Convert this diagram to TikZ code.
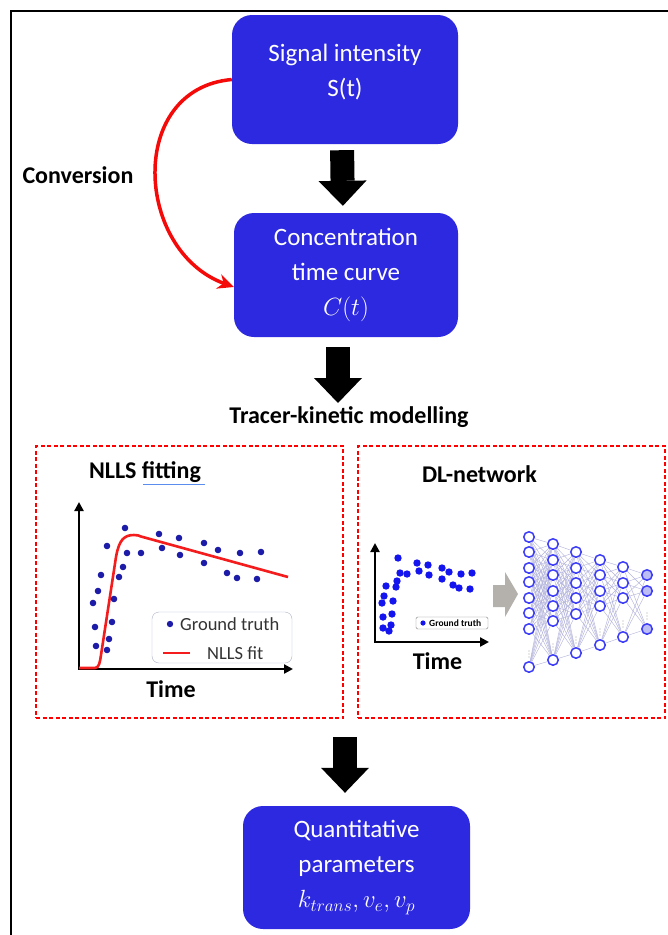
\documentclass[tikz,border=0pt]{standalone}
\usepackage{fontspec}
\setmainfont{Carlito}
\usetikzlibrary{positioning,arrows.meta,backgrounds,calc}
\definecolor{boxblue}{HTML}{2D29E0}
\definecolor{convred}{HTML}{F50A0A}
\definecolor{fitred}{HTML}{F41C1C}
\definecolor{gtnavy}{HTML}{1C1CA8}
\definecolor{gtblue}{HTML}{1414EE}
\definecolor{neuronblue}{HTML}{3C3CF8}
\definecolor{outfill}{HTML}{BDBDF6}
\definecolor{wiregray}{HTML}{B4B4DC}
\definecolor{arrowgray}{HTML}{B4B0AC}
\definecolor{leggray}{HTML}{A9B0C6}
\definecolor{spellblue}{HTML}{5B8DEF}

\begin{document}
\begin{tikzpicture}[x=1pt, y=1pt, font=\fontsize{25}{35}\selectfont,
      box/.style={fill=boxblue, text=white, rounded corners=20pt, align=center,
                  minimum width=226pt, inner sep=0pt},
      blk/.style={line width=24pt, -{Triangle[length=25pt,width=48pt,line width=0pt]}},
      conv/.style={draw=convred, line width=3.5pt, -{Stealth[length=16pt,width=15pt]}},
      lbl/.style={font=\fontsize{24}{28}\selectfont\bfseries},
      panel/.style={draw=red, dash pattern=on 4pt off 2.5pt, line width=1.3pt,
                    minimum width=307pt, minimum height=272pt},
      axis/.style={line width=2.8pt, {Triangle[length=9pt,width=9pt]}-{Triangle[length=9pt,width=9pt]}},
      neuron/.style={circle, draw=neuronblue, line width=1.5pt, minimum size=10.5pt, inner sep=0pt},
      wire/.style={draw=wiregray, line width=0.45pt}]

    \useasboundingbox (0,0) rectangle (668,-935);
    \draw[line width=2pt] (11,-935) -- (11,-11) -- (668,-11);

    % main chain
    \node[box, minimum height=129pt, text depth=18pt] (sig) at (345,-79.5) {Signal intensity\\S(t)};
    \node[box, minimum width=224pt, minimum height=124pt] (conc) at (346,-275)
      {Concentration\\time curve\\$C(t)$};
    \node[lbl] (tkm) at (349,-417) {Tracer-kinetic modelling};
    \node[box, minimum width=227pt, minimum height=123pt] (quant) at (356.5,-867.5)
      {Quantitative\\parameters\\$k_{trans}, v_e, v_p$};

    \draw[blk, shorten <=6pt, shorten >=7pt] ([xshift=-3pt]sig.south) -- ([xshift=-3pt]conc.north);
    \draw[blk, shorten <=10pt] ([xshift=-8pt]conc.south) -- ([xshift=-11pt]tkm.north);

    % conversion loop
    \node[lbl, anchor=west] (conv) at (19,-175) {Conversion};
    \draw[conv] (sig.west) to[out=185,in=160,looseness=1.3] ([yshift=-12pt]conc.west);

    % the two panels
    \node[panel] (nlls) at (189.5,-582) {};
    \node[panel] (dl) at (511.5,-582) {};
    \coordinate (join) at (345,-737);
    \draw[blk, shorten >=13pt] (join) -- ([xshift=-11.5pt]quant.north);

    % NLLS fitting
    \node[lbl] (nllsT) at (145,-472) {NLLS fitting};
    \draw[spellblue, line width=1pt] (143,-484) -- (205,-484);
    \draw[axis] (79,-502) -- (79,-669) -- (293,-669);
    \draw[fitred, line width=2.6pt] (79,-668) -- (95,-668)
      .. controls (99,-668) and (100,-662) .. (101,-655) -- (116,-557)
      .. controls (119,-540) and (124,-535) .. (134,-535)
      .. controls (137,-535) and (139,-535.5) .. (141,-536.5) -- (288,-577);
    \foreach \x/\y in {125/528,107/546,127/553,141/553,159/534,162/548,179/538,180/555,
                       204/543,218/550,204/563,240/553,261/552,227/573,237/578,257/579,
                       101/575,123/567,119/577,98/591,93/603,114/599,95/627,112/622,
                       96/646,109/639,107/650}
      \fill[gtnavy] (\x,-\y) circle (3.3pt);
    \node[draw=leggray, rounded corners=7pt, minimum width=140pt, minimum height=51pt]
      (legL) at (222,-637.5) {};
    \fill[gtnavy] (170,-624) circle (3.2pt);
    \node[anchor=west, inner sep=0pt, text=black!80, font=\fontsize{18.5}{20}\selectfont]
      (gtL) at (180,-624) {Ground truth};
    \draw[fitred, line width=2.6pt] (163,-653) -- (190,-653);
    \node[anchor=west, inner sep=0pt, text=black!80, font=\fontsize{18.5}{20}\selectfont]
      (fitL) at (207,-653) {NLLS fit};
    \node[lbl] (timeL) at (171,-689) {Time};

    % DL-network
    \node[lbl] (dlT) at (479.5,-474) {DL-network};
    \draw[axis] (375,-543) -- (375,-642) -- (489,-642);
    \foreach \x/\y in {398/558,417/563,428/565,442/568,449/572,461/574,472/573,400/573,
                       407/574,419/571,429/575,442/579,453/585,459/588,470/589,386/586,
                       397/581,396/587,384/596,393/601,382/603,383/617,392/614,383/628,
                       389/631,391/625}
      \fill[gtblue] (\x,-\y) circle (3.7pt);
    \node[draw=gray, rounded corners=1.5pt, minimum width=72pt, minimum height=12pt,
          inner sep=0pt, fill=white] (legR) at (452,-623) {};
    \fill[gtblue] (423,-623) circle (2.6pt);
    \node[anchor=west, inner sep=0pt, font=\fontsize{9.5}{10}\selectfont\bfseries]
      (gtR) at (429,-623.5) {Ground truth};
    \node[lbl] (timeR) at (437.5,-661) {Time};
    \fill[arrowgray] (493,-585) -- (505,-585) -- (505,-572) -- (518,-594)
      -- (505,-617) -- (505,-607) -- (493,-607) -- cycle;

    % network
    \foreach \c/\cx/\nf/\ys in {1/529/white/{537,552,568,582,598,613,629,667},
                                2/553/white/{544,560,575,591,606,621,660},
                                3/576/white/{552,568,583,598,614,653},
                                4/600/white/{560,575,591,606,645},
                                5/623/white/{567,583,598,637},
                                6/647/outfill/{575,591,629}}
      \foreach \y [count=\i] in \ys
        \node[neuron, fill=\nf] (n\c-\i) at (\cx,-\y) {};
    \begin{scope}[on background layer]
      \foreach \c/\m/\n in {1/8/7,2/7/6,3/6/5,4/5/4,5/4/3} {
        \pgfmathtruncatemacro\d{\c+1}
        \foreach \i in {1,...,\m}
          \foreach \j in {1,...,\n}
            \draw[wire] (n\c-\i) -- (n\d-\j);
      }
    \end{scope}
    \foreach \c/\l in {1/8,2/7,3/6,4/5,5/4,6/3}
      \foreach \s in {10,13,16}
        \fill[gray!70] ([yshift=\s pt]n\c-\l) circle (0.6pt);
  \end{tikzpicture}
\end{document}
